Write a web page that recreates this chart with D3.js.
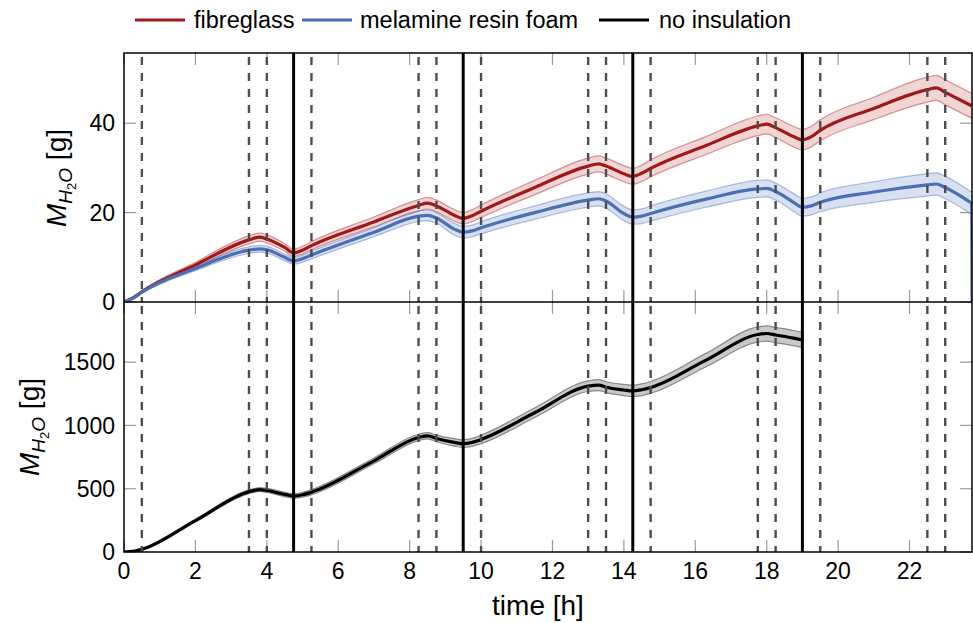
<!DOCTYPE html>
<html lang="en">
<head>
<meta charset="utf-8">
<script src="https://d3js.org/d3.v7.min.js"></script>
<style>
  body { margin: 0; background: #fff; }
  text { font-family: "Liberation Sans", Arial, sans-serif; fill: #000; }
</style>
</head>
<body>
<script>
// time points [h] shared by the two insulated cases
var times = [0, 0.25, 0.5, 2, 3.5, 3.8, 4.0, 4.5, 4.75, 5.0, 5.25, 7, 8.25, 8.5, 8.75, 9.25, 9.5, 9.75, 10,
  11.5, 13, 13.3, 13.5, 14.0, 14.25, 14.5, 14.75, 16.3, 17.75, 18.0, 18.25, 18.75, 19.0, 19.25, 19.5,
  21, 22.5, 22.75, 23.0, 23.74];
var fibreglass = [0, 0.9, 2.3, 8.3, 13.9, 14.5, 14.1, 12.2, 11.0, 11.6, 12.6, 17.9, 21.6, 22.1, 21.5, 19.4, 18.7, 19.3, 20.3,
  25.6, 30.4, 30.9, 30.4, 28.7, 28.1, 28.8, 29.9, 35.0, 39.4, 39.8, 39.0, 37.0, 36.3, 37.0, 38.4,
  43.3, 47.5, 47.9, 46.9, 43.9];
var fibreglassErr = [0, 0.2, 0.3, 0.6, 0.9, 0.9, 0.9, 0.85, 0.8, 0.85, 0.9, 1.1, 1.3, 1.3, 1.3, 1.3, 1.3, 1.35, 1.4,
  1.6, 1.8, 1.8, 1.8, 1.8, 1.8, 1.85, 1.9, 2.0, 2.2, 2.2, 2.2, 2.3, 2.3, 2.3, 2.35,
  2.5, 2.8, 2.8, 2.8, 2.8];
var melamine = [0, 0.8, 2.2, 7.5, 11.6, 11.9, 11.7, 10.0, 9.2, 9.7, 10.5, 15.6, 19.2, 19.4, 18.8, 16.3, 15.6, 15.9, 16.6,
  20.0, 22.8, 23.1, 22.6, 19.8, 19.0, 19.2, 19.8, 23.0, 25.3, 25.4, 24.7, 22.3, 21.2, 21.5, 22.3,
  24.6, 26.2, 26.4, 25.6, 22.1];
var melamineErr = [0, 0.2, 0.3, 0.5, 0.75, 0.75, 0.75, 0.75, 0.75, 0.8, 0.85, 1.0, 1.2, 1.2, 1.2, 1.3, 1.3, 1.3, 1.35,
  1.5, 1.6, 1.6, 1.6, 1.6, 1.6, 1.65, 1.7, 1.8, 1.9, 1.9, 1.9, 2.0, 2.0, 2.0, 2.1,
  2.3, 2.5, 2.5, 2.5, 2.5];
var melamineTail = [23.75, 0];

// no insulation (lower panel)
var bareTimes = [0, 0.25, 0.5, 2, 3.5, 3.8, 4.0, 4.5, 4.75, 5.0, 5.25, 7, 8.25, 8.5, 8.75, 9.25, 9.5, 9.75, 10,
  11.5, 13, 13.3, 13.5, 14.0, 14.25, 14.5, 14.75, 16.3, 17.75, 18.0, 18.25, 18.75, 19.0];
var bare = [0, 5, 21, 248, 476, 493, 486, 455, 442, 452, 472, 720, 905, 918, 897, 866, 856, 866, 889,
  1100, 1310, 1318, 1302, 1280, 1272, 1282, 1300, 1516, 1718, 1726, 1714, 1690, 1675];
var bareErr = [0, 3, 5, 10, 15, 15, 16, 17, 18, 19, 20, 23, 25, 25, 26, 29, 30, 31, 33,
  38, 42, 43, 43, 44, 45, 46, 47, 53, 60, 60, 60, 60, 60];

var solidLines = [4.75, 9.5, 14.25, 19.0];
var dashedLines = [0.5, 3.5, 4.0, 5.25, 8.25, 8.75, 10.0, 13.0, 13.5, 14.75, 17.75, 18.25, 19.5, 22.5, 23.0];
var xTicks = [0, 2, 4, 6, 8, 10, 12, 14, 16, 18, 20, 22];
var topTicks = [0, 20, 40];
var bottomTicks = [0, 500, 1000, 1500];
var legendNames = ["fibreglass", "melamine resin foam", "no insulation"];

var W = 973, H = 623;
var left = 124, right = 972;
var topY0 = 53, midY = 302, botY1 = 552;

var svg = d3.select("body").append("svg")
  .attr("width", W).attr("height", H);

var x = d3.scaleLinear().domain([0, 23.75]).range([left, right]);
var yTop = d3.scaleLinear().domain([0, 55.7]).range([midY, topY0]);
var yBot = d3.scaleLinear().domain([0, 1975]).range([botY1, midY]);

var defs = svg.append("defs");
defs.append("clipPath").attr("id", "clipTop").append("rect")
  .attr("x", left).attr("y", topY0).attr("width", right - left).attr("height", midY - topY0);
defs.append("clipPath").attr("id", "clipBot").append("rect")
  .attr("x", left).attr("y", midY).attr("width", right - left).attr("height", botY1 - midY);

function drawTicks(y, ticks, y0, y1) {
  var g = svg.append("g").attr("stroke", "#9a9a9a").attr("stroke-width", 1.2);
  xTicks.forEach(function(t) {
    g.append("line").attr("x1", x(t)).attr("x2", x(t)).attr("y1", y0).attr("y2", y0 + 12);
    g.append("line").attr("x1", x(t)).attr("x2", x(t)).attr("y1", y1).attr("y2", y1 - 12);
  });
  ticks.forEach(function(v) {
    g.append("line").attr("x1", left).attr("x2", left + 12).attr("y1", y(v)).attr("y2", y(v));
    g.append("line").attr("x1", right).attr("x2", right - 12).attr("y1", y(v)).attr("y2", y(v));
  });
  svg.append("g").selectAll("text").data(ticks).enter().append("text")
    .attr("x", left - 9).attr("y", function(d) { return y(d); })
    .attr("dy", "0.36em").attr("text-anchor", "end")
    .style("font-size", "23px").text(function(d) { return d; });
}
drawTicks(yTop, topTicks, topY0, midY);
drawTicks(yBot, bottomTicks, midY, botY1);

function band(panel, y, ts, vs, es, fill, edge) {
  var pts = ts.map(function(t, i) { return [t, vs[i], es[i]]; });
  panel.append("path").datum(pts)
    .attr("fill", fill).attr("stroke", "none")
    .attr("d", d3.area().curve(d3.curveMonotoneX)
      .x(function(d) { return x(d[0]); })
      .y0(function(d) { return y(d[1] - d[2]); })
      .y1(function(d) { return y(d[1] + d[2]); }));
  [-1, 1].forEach(function(s) {
    panel.append("path").datum(pts)
      .attr("fill", "none").attr("stroke", edge).attr("stroke-width", 1.2)
      .attr("d", d3.line().curve(d3.curveMonotoneX)
        .x(function(d) { return x(d[0]); })
        .y(function(d) { return y(d[1] + s * d[2]); }));
  });
}

function curve(panel, y, pts, color) {
  panel.append("path").datum(pts)
    .attr("fill", "none").attr("stroke", color).attr("stroke-width", 3.2)
    .attr("stroke-linejoin", "round")
    .attr("d", d3.line().curve(d3.curveMonotoneX)
      .x(function(d) { return x(d[0]); })
      .y(function(d) { return y(d[1]); }));
}

var red = "#a01818", blue = "#4a6fb5";

var pTop = svg.append("g").attr("clip-path", "url(#clipTop)");
band(pTop, yTop, times, fibreglass, fibreglassErr, "rgba(190,60,60,0.22)", "rgba(190,70,70,0.55)");
band(pTop, yTop, times, melamine, melamineErr, "rgba(80,115,190,0.22)", "rgba(80,115,190,0.45)");

var pBot = svg.append("g").attr("clip-path", "url(#clipBot)");
band(pBot, yBot, bareTimes, bare, bareErr, "#c9c9c9", "#888");

function vlines(y0, y1) {
  var g = svg.append("g");
  g.selectAll(".dash").data(dashedLines).enter().append("line")
    .attr("x1", function(d) { return x(d); }).attr("x2", function(d) { return x(d); })
    .attr("y1", y0).attr("y2", y1)
    .attr("stroke", "#4d4d4d").attr("stroke-width", 2.4).attr("stroke-dasharray", "8,8")
    .attr("stroke-dashoffset", -4);
}
vlines(topY0, midY);
vlines(midY, botY1);

curve(pTop, yTop, times.map(function(t, i) { return [t, fibreglass[i]]; }), red);
curve(pTop, yTop, times.map(function(t, i) { return [t, melamine[i]]; }), blue);
pTop.append("path")
  .attr("fill", "none").attr("stroke", blue).attr("stroke-width", 3)
  .attr("d", d3.line()([[x(times[times.length - 1]), yTop(melamine[melamine.length - 1])],
    [x(melamineTail[0]), yTop(melamineTail[1])]]));
curve(pBot, yBot, bareTimes.map(function(t, i) { return [t, bare[i]]; }), "#000");

svg.append("g").selectAll("line").data(solidLines).enter().append("line")
  .attr("x1", function(d) { return x(d); }).attr("x2", function(d) { return x(d); })
  .attr("y1", topY0).attr("y2", botY1)
  .attr("stroke", "#000").attr("stroke-width", 3);

// frames
svg.append("rect").attr("x", left).attr("y", topY0).attr("width", right - left).attr("height", botY1 - topY0)
  .attr("fill", "none").attr("stroke", "#000").attr("stroke-width", 1.5);
svg.append("line").attr("x1", left).attr("x2", right).attr("y1", midY).attr("y2", midY)
  .attr("stroke", "#000").attr("stroke-width", 1.5);

// x tick labels
svg.append("g").selectAll("text").data(xTicks).enter().append("text")
  .attr("x", function(d) { return x(d); }).attr("y", 579)
  .attr("text-anchor", "middle").style("font-size", "23px")
  .text(function(d) { return d; });

svg.append("text").attr("x", 538).attr("y", 615).attr("text-anchor", "middle")
  .style("font-size", "28px").text("time [h]");

function yLabel(cx, cy) {
  var t = svg.append("text").attr("transform", "translate(" + cx + "," + cy + ") rotate(-90)")
    .attr("text-anchor", "middle").style("font-size", "28px");
  t.append("tspan").style("font-style", "italic").text("M");
  t.append("tspan").style("font-style", "italic").style("font-size", "19px").attr("dy", 6).text("H");
  t.append("tspan").style("font-size", "13px").attr("dy", 4).text("2");
  t.append("tspan").style("font-style", "italic").style("font-size", "19px").attr("dy", -4).text("O");
  t.append("tspan").attr("dy", -6).text(" [g]");
}
yLabel(66, 178);
yLabel(39, 427);

// legend
var legX = [135, 302, 599], legTextX = [194, 360, 659], legColors = [red, blue, "#000"];
legendNames.forEach(function(n, i) {
  svg.append("line").attr("x1", legX[i]).attr("x2", legX[i] + 50).attr("y1", 20).attr("y2", 20)
    .attr("stroke", legColors[i]).attr("stroke-width", 3);
  svg.append("text").attr("x", legTextX[i]).attr("y", 20).attr("dy", "0.36em")
    .style("font-size", "23.5px").text(n);
});
</script>
</body>
</html>
